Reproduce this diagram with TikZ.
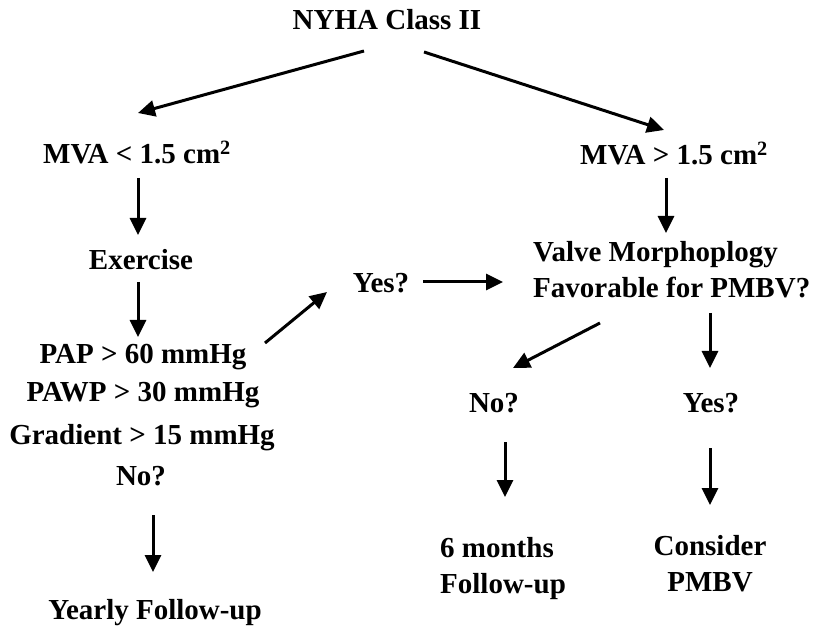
\documentclass[tikz,border=0pt]{standalone}
\usepackage{fontspec}
\setmainfont{Liberation Serif}
\usetikzlibrary{arrows.meta,calc}

\begin{document}
\begin{tikzpicture}[x=1pt,y=-1pt,
  txt/.style={font=\bfseries\fontsize{29}{36}\selectfont,inner sep=0pt,anchor=base},
  arr/.style={-{Triangle[length=17pt,width=16pt]},line width=3pt}]
\useasboundingbox (0,0) rectangle (817,628);
% left branch
\node[txt] (nyha) at (387,30) {NYHA Class II};
\node[txt] (mvaL) at (137,164) {MVA < 1.5 cm\textsuperscript{2}};
\node[txt] (exer) at (141,270) {Exercise};
\node[txt] (pap) at (143,364) {PAP > 60 mmHg};
\node[txt] (pawp) at (143,401) {PAWP > 30 mmHg};
\node[txt] (grad) at (142,444) {Gradient > 15 mmHg};
\node[txt] (noL) at (141,485) {No?};
\node[txt] (yearly) at (155,619) {Yearly Follow-up};
\node[txt] (yesM) at (381,293) {Yes?};
% right branch
\node[txt] (mvaR) at (674,165) {MVA > 1.5 cm\textsuperscript{2}};
\node[txt,align=left,anchor=north west] (valve) at (533,241) {Valve Morphoplogy\\Favorable for PMBV?};
\node[txt] (noR) at (494,412) {No?};
\node[txt] (yesR) at (711,413) {Yes?};
\node[txt,align=left,anchor=north west] (six) at (440,537) {6 months\\Follow-up};
\node[txt,align=center,anchor=north] (cons) at (710,535) {Consider\\PMBV};

\draw[arr] ($(nyha.base)+(-23,21)$) -- ($(mvaL.base)+(1,-51)$);
\draw[arr] ($(nyha.base)+(37,22)$) -- ($(mvaR.base)+(-10,-35)$);
\draw[arr] ($(mvaL.base)+(1,14)$) -- ($(exer.base)+(-3,-35)$);
\draw[arr] ($(exer.base)+(-3,12)$) -- ($(pap.base)+(-5,-27)$);
\draw[arr] ($(pap.base)+(122,-21)$) -- ($(yesM.base)+(-54,-1)$);
\draw[arr] ($(yesM.base)+(42,-11)$) -- ($(valve.north west)+(-30,41)$);
\draw[arr] ($(mvaR.base)+(-8,13)$) -- ($(valve.north west)+(133,-8)$);
\draw[arr] ($(valve.north west)+(67,82)$) -- ($(noR.base)+(19,-44)$);
\draw[arr] ($(valve.north west)+(177,72)$) -- ($(yesR.base)+(-1,-45)$);
\draw[arr] ($(noL.base)+(12,30)$) -- ($(yearly.base)+(-2,-47)$);
\draw[arr] ($(noR.base)+(11,30)$) -- ($(six.north west)+(65,-40)$);
\draw[arr] ($(yesR.base)+(-1,35)$) -- ($(cons.north)+(0,-30)$);
\end{tikzpicture}
\end{document}
